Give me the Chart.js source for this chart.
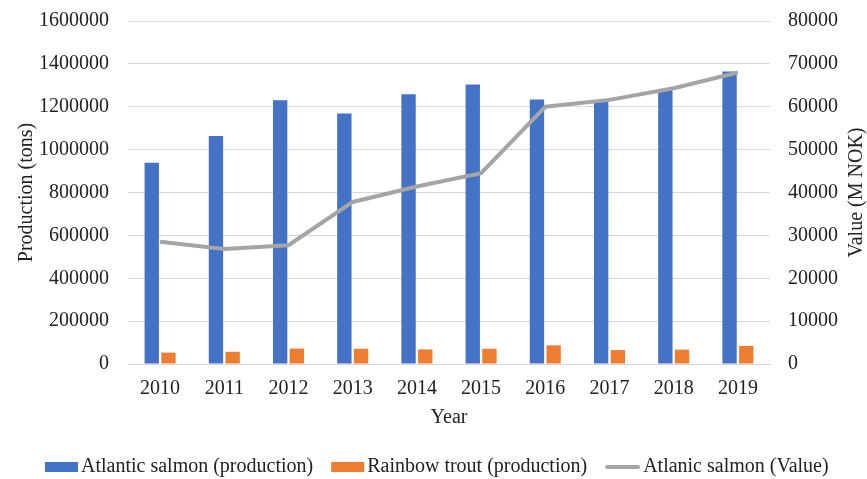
<!DOCTYPE html>
<html>
<head>
<meta charset="utf-8">
<script src="https://cdn.jsdelivr.net/npm/chart.js@4/dist/chart.umd.min.js"></script>
<style>
  html, body { margin: 0; padding: 0; background: #fff; }
  #wrap { width: 867px; height: 479px; }
</style>
</head>
<body>
<div id="wrap"><canvas id="c" width="867" height="479"></canvas></div>
<script>
// Norwegian aquaculture, 2010-2019
const years = ['2010', '2011', '2012', '2013', '2014', '2015', '2016', '2017', '2018', '2019'];
const salmonProduction = [939000, 1064000, 1230000, 1169000, 1258000, 1304000, 1234000, 1232000, 1282000, 1364000];
const troutProduction = [53000, 57000, 72000, 71000, 68000, 71000, 87000, 65000, 67000, 84000];
const salmonValue = [28500, 26800, 27700, 37800, 41400, 44500, 60000, 61600, 64300, 68000];

const seriesNames = ['Atlantic salmon (production)', 'Rainbow trout (production)', 'Atlanic salmon (Value)'];
const leftTitle = 'Production (tons)';
const rightTitle = 'Value (M NOK)';
const bottomTitle = 'Year';

const BLUE = '#4472c4';
const ORANGE = '#ed7d31';
const GREY = '#a5a5a5';
const TEXT = '#222222';
const GRID = '#d9d9d9';
const FONT = "'Liberation Serif', 'Times New Roman', serif";

// plain integers, no thousands separators
const plainNumber = (v) => String(v);

// Right-hand axis title reads bottom-to-top, and a compact legend row
const extras = {
  id: 'extras',
  afterDraw(chart) {
    const ctx = chart.ctx;
    const area = chart.chartArea;
    ctx.save();
    ctx.font = '20px ' + FONT;
    ctx.fillStyle = TEXT;
    ctx.textBaseline = 'middle';

    // right axis title
    ctx.save();
    ctx.translate(857, (area.top + area.bottom) / 2);
    ctx.rotate(-Math.PI / 2);
    ctx.textAlign = 'center';
    ctx.fillText(rightTitle, 0, 0);
    ctx.restore();

    // legend
    const y = 467;
    let x = 45;
    const kinds = [
      { color: BLUE, type: 'box' },
      { color: ORANGE, type: 'box' },
      { color: GREY, type: 'line' }
    ];
    ctx.textAlign = 'left';
    kinds.forEach((k, i) => {
      if (k.type === 'box') {
        ctx.fillStyle = k.color;
        ctx.fillRect(x, y - 5, 33, 10);
        x += 33;
      } else {
        ctx.strokeStyle = k.color;
        ctx.lineWidth = 4;
        ctx.lineCap = 'round';
        ctx.beginPath();
        ctx.moveTo(x + 2, y);
        ctx.lineTo(x + 33, y);
        ctx.stroke();
        x += 35;
      }
      x += 3;
      ctx.fillStyle = TEXT;
      ctx.fillText(seriesNames[i], x, y);
      x += ctx.measureText(seriesNames[i]).width + 18;
    });
    ctx.restore();
  }
};

// vertical scales: keep the plot top flush with the layout padding
const noOverhang = (scale, width) => {
  scale.width = width;
  scale.paddingTop = 0;
  scale.paddingBottom = 0;
};

new Chart(document.getElementById('c'), {
  type: 'bar',
  data: {
    labels: years,
    datasets: [
      {
        type: 'bar',
        label: seriesNames[0],
        data: salmonProduction,
        backgroundColor: BLUE,
        yAxisID: 'y',
        order: 1,
        categoryPercentage: 0.52,
        barPercentage: 0.86
      },
      {
        type: 'bar',
        label: seriesNames[1],
        data: troutProduction,
        backgroundColor: ORANGE,
        yAxisID: 'y',
        order: 1,
        categoryPercentage: 0.52,
        barPercentage: 0.86
      },
      {
        type: 'line',
        label: seriesNames[2],
        data: salmonValue,
        borderColor: GREY,
        backgroundColor: GREY,
        borderWidth: 4,
        pointRadius: 0,
        tension: 0,
        yAxisID: 'y1',
        order: 0
      }
    ]
  },
  options: {
    responsive: false,
    animation: false,
    layout: { padding: { top: 21, bottom: 45, left: 0, right: 0 } },
    plugins: {
      legend: { display: false },
      tooltip: { enabled: false }
    },
    scales: {
      x: {
        grid: { display: false, drawTicks: false },
        border: { display: true, color: GRID, width: 1 },
        ticks: { color: TEXT, font: { family: FONT, size: 20 }, padding: 13, maxRotation: 0 },
        title: { display: true, text: bottomTitle, color: TEXT, font: { family: FONT, size: 20 }, padding: { top: 0, bottom: 4 } },
        afterFit(scale) { scale.height = 70; }
      },
      y: {
        position: 'left',
        min: 0,
        max: 1600000,
        ticks: { stepSize: 200000, color: TEXT, font: { family: FONT, size: 20 }, padding: 19, callback: plainNumber },
        grid: { color: GRID, lineWidth: 1, drawTicks: false },
        border: { display: false },
        title: { display: true, text: leftTitle, color: TEXT, font: { family: FONT, size: 20 }, padding: { top: 15, bottom: 0 } },
        afterFit(scale) { noOverhang(scale, 128); }
      },
      y1: {
        position: 'right',
        min: 0,
        max: 80000,
        ticks: { stepSize: 10000, color: TEXT, font: { family: FONT, size: 20 }, padding: 18, callback: plainNumber },
        grid: { display: false, drawTicks: false },
        border: { display: false },
        afterFit(scale) { noOverhang(scale, 97); }
      }
    }
  },
  plugins: [extras]
});
</script>
</body>
</html>
